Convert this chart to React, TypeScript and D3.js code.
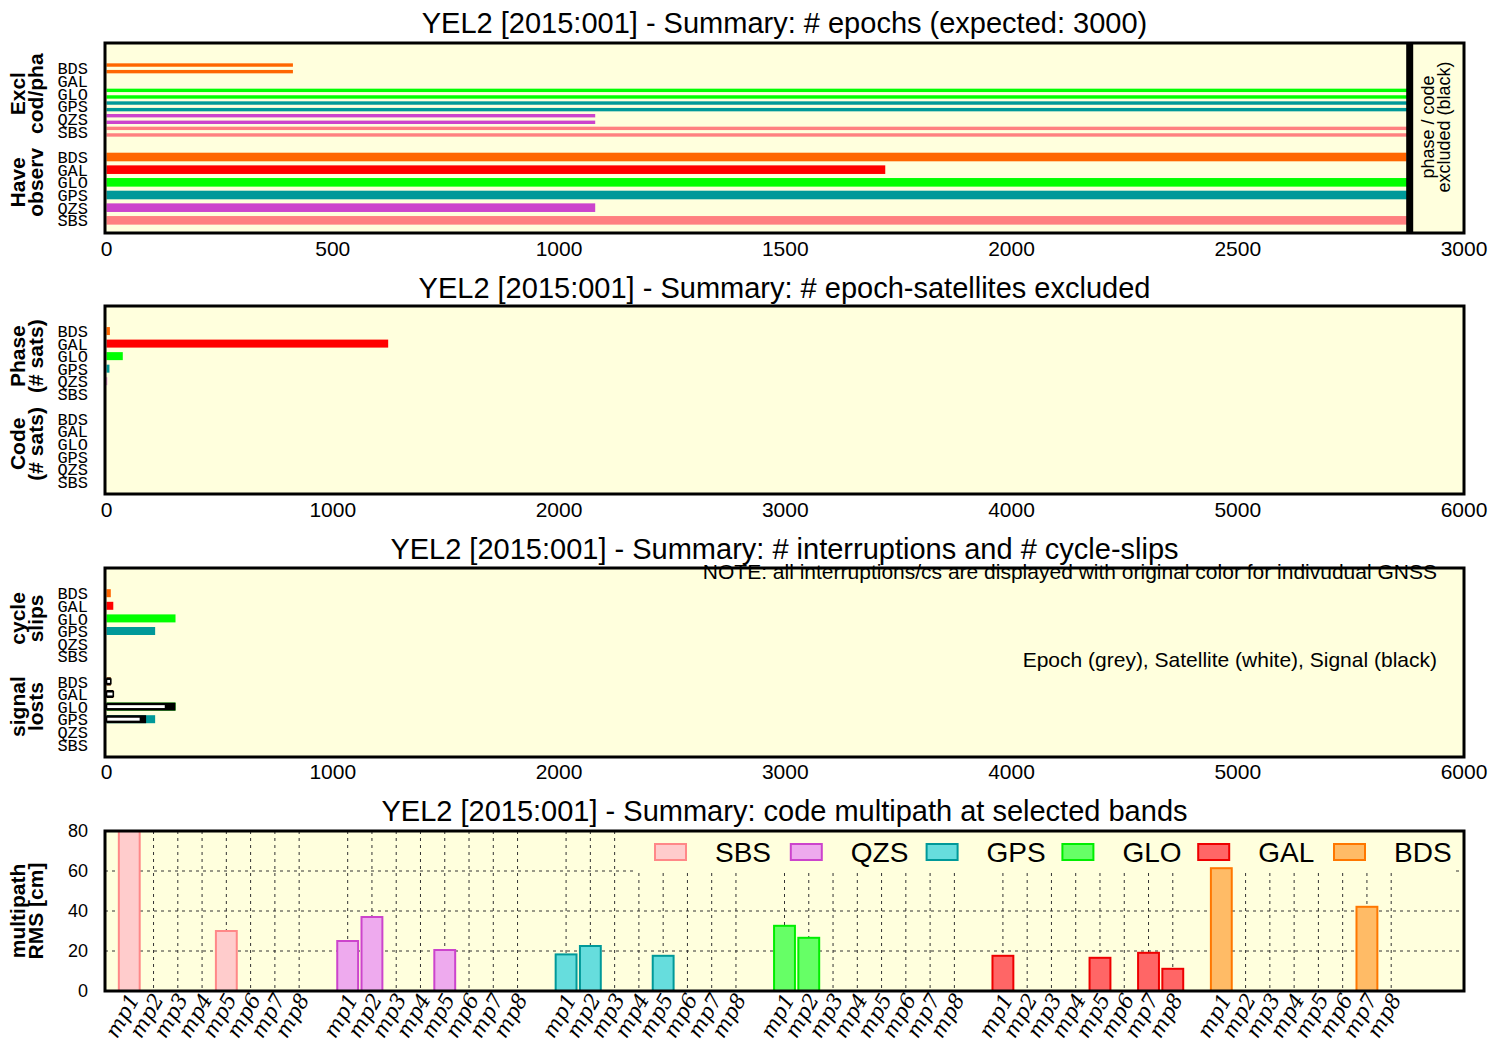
import React, { useEffect, useRef } from 'react';
import * as d3 from 'd3';

// ---- data ----
const gnssRows = ['BDS', 'GAL', 'GLO', 'GPS', 'QZS', 'SBS'];
const gnssColors: Record<string, string> = {
  BDS: '#FF6600',
  GAL: '#FF0000',
  GLO: '#00FF00',
  GPS: '#009999',
  QZS: '#CC44CC',
  SBS: '#FF8080',
};

// panel 1: # epochs
const excludedCodPha = [412, 0, 2880, 2880, 1080, 2880];
const haveObserv = [2873, 1721, 2880, 2880, 1080, 2880];
const phaseCodeExcludedAt = 2880;
const epochTicks = [0, 500, 1000, 1500, 2000, 2500, 3000];

// panel 2: # epoch-satellites excluded
const phaseExcluded = [15, 1245, 72, 13, 3, 0];
const codeExcluded = [0, 0, 0, 0, 0, 0];
const satTicks = [0, 1000, 2000, 3000, 4000, 5000, 6000];

// panel 3: interruptions and cycle-slips
const cycleSlips = [19, 30, 305, 215, 0, 0];
const lostTotal = [19, 30, 305, 215, 0, 0];
const lostSignal = [19, 30, 305, 175, 0, 0];
const lostSatellite = [19, 30, 261, 150, 0, 0];
const slipTicks = [0, 1000, 2000, 3000, 4000, 5000, 6000];

// panel 4: code multipath
const mpGnss = ['SBS', 'QZS', 'GPS', 'GLO', 'GAL', 'BDS'];
const mpBands = ['mp1', 'mp2', 'mp3', 'mp4', 'mp5', 'mp6', 'mp7', 'mp8'];
const mpSBS = [84, 0, 0, 0, 30, 0, 0, 0];
const mpQZS = [25, 37, 0, 0, 20.5, 0, 0, 0];
const mpGPS = [18.3, 22.5, 0, 0, 17.6, 0, 0, 0];
const mpGLO = [32.6, 26.6, 0, 0, 0, 0, 0, 0];
const mpGAL = [17.6, 0, 0, 0, 16.6, 0, 19.1, 11.1];
const mpBDS = [61.4, 0, 0, 0, 0, 0, 42.1, 0];
const mpTicks = [0, 20, 40, 60, 80];

const mpFill: Record<string, string> = {
  SBS: '#FFCCCC',
  QZS: '#EEAAEE',
  GPS: '#66DDDD',
  GLO: '#66FF66',
  GAL: '#FF6666',
  BDS: '#FFBB66',
};
const mpStroke: Record<string, string> = {
  SBS: '#FF8888',
  QZS: '#CC44CC',
  GPS: '#009999',
  GLO: '#00EE00',
  GAL: '#EE0000',
  BDS: '#FF7700',
};

const BG = '#FFFFDD';
const SANS = '"Liberation Sans", Arial, sans-serif';
const MONO = '"Liberation Mono", monospace';

const App: React.FC = () => {
  const svgRef = useRef<SVGSVGElement>(null);

  useEffect(() => {
    if (!svgRef.current) return;
    const svg = d3.select(svgRef.current);
    svg.selectAll('*').remove();

    const left = 105;
    const right = 1464;

    const title = (text: string, y: number) =>
      svg
        .append('text')
        .attr('x', (left + right) / 2)
        .attr('y', y)
        .attr('text-anchor', 'middle')
        .attr('font-family', SANS)
        .attr('font-size', 29)
        .text(text);

    const yTitle = (lines: string[], cy: number) => {
      lines.forEach((l, i) => {
        svg
          .append('text')
          .attr('transform', `translate(${25 + i * 18},${cy}) rotate(-90)`)
          .attr('text-anchor', 'middle')
          .attr('font-family', SANS)
          .attr('font-weight', 'bold')
          .attr('font-size', 21)
          .text(l);
      });
    };

    const panelBg = (top: number, bottom: number) =>
      svg
        .append('rect')
        .attr('x', left)
        .attr('y', top)
        .attr('width', right - left)
        .attr('height', bottom - top)
        .attr('fill', BG);

    const panelBorder = (top: number, bottom: number) =>
      svg
        .append('rect')
        .attr('x', left)
        .attr('y', top)
        .attr('width', right - left)
        .attr('height', bottom - top)
        .attr('fill', 'none')
        .attr('stroke', '#000')
        .attr('stroke-width', 3);

    const xTicks = (x: d3.ScaleLinear<number, number>, ticks: number[], y: number) =>
      svg
        .append('g')
        .selectAll('text')
        .data(ticks)
        .enter()
        .append('text')
        .attr('x', (d) => x(d))
        .attr('y', y)
        .attr('text-anchor', 'middle')
        .attr('font-family', SANS)
        .attr('font-size', 21)
        .text((d) => d);

    const gnssLabels = (row: d3.ScaleLinear<number, number>, offsets: number[]) => {
      offsets.forEach((off) => {
        svg
          .append('g')
          .selectAll('text')
          .data(gnssRows)
          .enter()
          .append('text')
          .attr('x', 88)
          .attr('y', (_, i) => row(i + off))
          .attr('dy', '0.36em')
          .attr('text-anchor', 'end')
          .attr('font-family', MONO)
          .attr('font-size', 17)
          .text((d) => d);
      });
    };

    const bars = (
      x: d3.ScaleLinear<number, number>,
      row: d3.ScaleLinear<number, number>,
      values: number[],
      off: number,
      h: number,
      dy: number,
      fill: (i: number) => string,
      stroke?: string
    ) => {
      const g = svg.append('g');
      values.forEach((v, i) => {
        if (v <= 0) return;
        const r = g
          .append('rect')
          .attr('x', x(0))
          .attr('y', row(i + off) + dy - h / 2)
          .attr('width', x(v) - x(0))
          .attr('height', h)
          .attr('fill', fill(i));
        if (stroke) r.attr('stroke', stroke).attr('stroke-width', 1.6);
      });
    };

    const color = (i: number) => gnssColors[gnssRows[i]];

    // ---------- panel 1 ----------
    {
      const top = 43;
      const bottom = 233;
      const x = d3.scaleLinear().domain([0, 3000]).range([106.5, right]);
      const row = d3.scaleLinear().domain([-2, 13]).range([top, bottom]);
      title('YEL2 [2015:001] - Summary: # epochs (expected: 3000)', 33);
      panelBg(top, bottom);
      bars(x, row, excludedCodPha, 0, 3.4, -3.3, color);
      bars(x, row, excludedCodPha, 0, 3.4, 3.3, color);
      bars(x, row, haveObserv, 7, 8.6, 0, color);
      svg
        .append('rect')
        .attr('x', x(phaseCodeExcludedAt) - 3.5)
        .attr('y', top)
        .attr('width', 7)
        .attr('height', bottom - top)
        .attr('fill', '#000');
      ['phase / code', 'excluded (black)'].forEach((l, i) => {
        svg
          .append('text')
          .attr('transform', `translate(${1434 + i * 16},${127}) rotate(-90)`)
          .attr('text-anchor', 'middle')
          .attr('font-family', SANS)
          .attr('font-size', 18)
          .text(l);
      });
      panelBorder(top, bottom);
      xTicks(x, epochTicks, 256);
      gnssLabels(row, [0, 7]);
      yTitle(['Excl', 'cod/pha'], row(2));
      yTitle(['Have', 'observ'], row(9));
    }

    // ---------- panel 2 ----------
    {
      const top = 306;
      const bottom = 494;
      const x = d3.scaleLinear().domain([0, 6000]).range([106.5, right]);
      const row = d3.scaleLinear().domain([-2, 13]).range([top, bottom]);
      title('YEL2 [2015:001] - Summary: # epoch-satellites excluded', 298);
      panelBg(top, bottom);
      bars(x, row, phaseExcluded, 0, 8, 0, color);
      bars(x, row, codeExcluded, 7, 8, 0, color);
      panelBorder(top, bottom);
      xTicks(x, satTicks, 517);
      gnssLabels(row, [0, 7]);
      yTitle(['Phase', '(# sats)'], row(2));
      yTitle(['Code', '(# sats)'], row(9));
    }

    // ---------- panel 3 ----------
    {
      const top = 568;
      const bottom = 757;
      const x = d3.scaleLinear().domain([0, 6000]).range([106.5, right]);
      const row = d3.scaleLinear().domain([-2, 13]).range([top, bottom]);
      title('YEL2 [2015:001] - Summary: # interruptions and # cycle-slips', 559);
      panelBg(top, bottom);
      bars(x, row, cycleSlips, 0, 8, 0, color);
      bars(x, row, lostTotal, 7, 8, 0, color);
      bars(x, row, lostSignal, 7, 8, 0, () => '#000');
      bars(x, row, lostSatellite, 7, 4.5, 0, () => '#FFFFFF', '#000');
      panelBorder(top, bottom);
      svg
        .append('text')
        .attr('x', 1437)
        .attr('y', 579)
        .attr('text-anchor', 'end')
        .attr('font-family', SANS)
        .attr('font-size', 21)
        .text('NOTE: all interruptions/cs are displayed with original color for indivudual GNSS');
      svg
        .append('text')
        .attr('x', 1437)
        .attr('y', 667)
        .attr('text-anchor', 'end')
        .attr('font-family', SANS)
        .attr('font-size', 21)
        .text('Epoch (grey), Satellite (white), Signal (black)');
      xTicks(x, slipTicks, 779);
      gnssLabels(row, [0, 7]);
      yTitle(['cycle', 'slips'], row(2));
      yTitle(['signal', 'losts'], row(9));
    }

    // ---------- panel 4 ----------
    {
      const top = 831;
      const bottom = 991;
      const x = d3.scaleLinear().domain([-1, 55]).range([left, right]);
      const y = d3.scaleLinear().domain([0, 80]).range([bottom, top]);
      const series = [mpSBS, mpQZS, mpGPS, mpGLO, mpGAL, mpBDS];
      const slot = (g: number, k: number) => g * (mpBands.length + 1) + k;
      const bw = (x(1) - x(0)) * 0.86;

      title('YEL2 [2015:001] - Summary: code multipath at selected bands', 821);
      panelBg(top, bottom);

      const clipId = 'mpclip';
      svg
        .append('clipPath')
        .attr('id', clipId)
        .append('rect')
        .attr('x', left)
        .attr('y', top)
        .attr('width', right - left)
        .attr('height', bottom - top);

      const grid = svg
        .append('g')
        .attr('stroke', '#333')
        .attr('stroke-width', 1)
        .attr('stroke-dasharray', '3,4');
      mpTicks
        .filter((t) => t > 0 && t < 80)
        .forEach((t) => {
          grid.append('line').attr('x1', left).attr('x2', right).attr('y1', y(t)).attr('y2', y(t));
        });
      mpGnss.forEach((_, g) => {
        mpBands.forEach((__, k) => {
          const xx = x(slot(g, k));
          grid.append('line').attr('x1', xx).attr('x2', xx).attr('y1', top).attr('y2', bottom);
        });
      });

      // opaque key background
      svg.append('rect').attr('x', 637).attr('y', 832).attr('width', 819).attr('height', 40).attr('fill', BG);

      const barG = svg.append('g').attr('clip-path', `url(#${clipId})`);
      series.forEach((vals, g) => {
        const name = mpGnss[g];
        vals.forEach((v, k) => {
          if (v <= 0) return;
          barG
            .append('rect')
            .attr('x', x(slot(g, k)) - bw / 2)
            .attr('y', y(v))
            .attr('width', bw)
            .attr('height', y(0) - y(v))
            .attr('fill', mpFill[name])
            .attr('stroke', mpStroke[name])
            .attr('stroke-width', 2);
        });
      });

      // key
      mpGnss.forEach((name, i) => {
        const bx = 655 + i * 135.8;
        svg
          .append('rect')
          .attr('x', bx)
          .attr('y', 844)
          .attr('width', 31)
          .attr('height', 16)
          .attr('fill', mpFill[name])
          .attr('stroke', mpStroke[name])
          .attr('stroke-width', 2);
        svg
          .append('text')
          .attr('x', bx + 60)
          .attr('y', 862)
          .attr('font-family', SANS)
          .attr('font-size', 28)
          .text(name);
      });

      panelBorder(top, bottom);

      svg
        .append('g')
        .selectAll('text')
        .data(mpTicks)
        .enter()
        .append('text')
        .attr('x', 88)
        .attr('y', (d) => y(d))
        .attr('dy', '0.36em')
        .attr('text-anchor', 'end')
        .attr('font-family', SANS)
        .attr('font-size', 18)
        .text((d) => d);

      mpGnss.forEach((_, g) => {
        mpBands.forEach((band, k) => {
          const xx = x(slot(g, k));
          svg
            .append('text')
            .attr('transform', `translate(${xx + 11},${999}) rotate(-60)`)
            .attr('text-anchor', 'end')
            .attr('font-family', '"DejaVu Serif", serif')
            .attr('font-style', 'italic')
            .attr('font-size', 21)
            .text(band);
        });
      });

      yTitle(['multipath', 'RMS [cm]'], y(40));
    }
  }, []);

  return (
    <svg
      ref={svgRef}
      width={1500}
      height={1050}
      style={{ position: 'absolute', left: 0, top: 0, background: '#fff' }}
    />
  );
};

export default App;
